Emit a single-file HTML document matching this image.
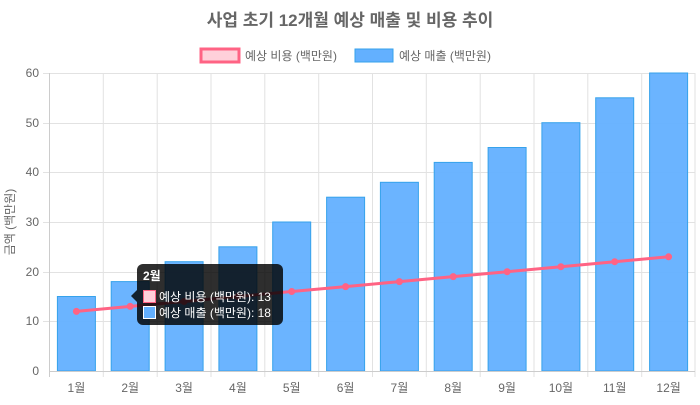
<!DOCTYPE html>
<html><head><meta charset="utf-8"><style>
body{margin:0;background:#fff;}
text{font-family:"Liberation Sans","Noto Sans CJK KR",sans-serif;}
</style></head><body>
<svg width="700" height="400" viewBox="0 0 700 400" xmlns="http://www.w3.org/2000/svg">
<text x="350" y="26" text-anchor="middle" font-size="17" font-weight="bold" fill="#666">사업 초기 12개월 예상 매출 및 비용 추이</text>
<rect x="201" y="49" width="38" height="13" fill="#ffd0da" stroke="#ff6384" stroke-width="3"/>
<text x="245" y="60" font-size="12" fill="#666">예상 비용 (백만원)</text>
<rect x="355" y="49" width="38" height="13" fill="#63b0ff" stroke="#36a2eb" stroke-width="1"/>
<text x="399" y="60" font-size="12" fill="#666">예상 매출 (백만원)</text>
<g stroke="#e2e2e2" stroke-width="1">
<line x1="43" y1="73.5" x2="695" y2="73.5"/>
<line x1="43" y1="123.5" x2="695" y2="123.5"/>
<line x1="43" y1="172.5" x2="695" y2="172.5"/>
<line x1="43" y1="222.5" x2="695" y2="222.5"/>
<line x1="43" y1="272.5" x2="695" y2="272.5"/>
<line x1="43" y1="321.5" x2="695" y2="321.5"/>
<line x1="49.5" y1="73" x2="49.5" y2="377" stroke="#ccc"/>
<line x1="103.3" y1="73" x2="103.3" y2="377"/>
<line x1="157.2" y1="73" x2="157.2" y2="377"/>
<line x1="211" y1="73" x2="211" y2="377"/>
<line x1="264.8" y1="73" x2="264.8" y2="377"/>
<line x1="318.7" y1="73" x2="318.7" y2="377"/>
<line x1="372.5" y1="73" x2="372.5" y2="377"/>
<line x1="426.3" y1="73" x2="426.3" y2="377"/>
<line x1="480.2" y1="73" x2="480.2" y2="377"/>
<line x1="534" y1="73" x2="534" y2="377"/>
<line x1="587.8" y1="73" x2="587.8" y2="377"/>
<line x1="641.7" y1="73" x2="641.7" y2="377"/>
<line x1="695" y1="73" x2="695" y2="377"/>
</g>
<g font-size="12" fill="#666" text-anchor="end">
<text x="39" y="77">60</text><text x="39" y="127">50</text><text x="39" y="176">40</text>
<text x="39" y="226">30</text><text x="39" y="276">20</text><text x="39" y="325">10</text><text x="39" y="375">0</text>
</g>
<text transform="translate(14,222) rotate(-90)" text-anchor="middle" font-size="12" fill="#666">금액 (백만원)</text>
<g fill="#63b0ff" fill-opacity="0.95" stroke="#36a2eb" stroke-width="1">
<rect x="57.4" y="296.5" width="38" height="74.5"/>
<rect x="111.2" y="281.6" width="38" height="89.4"/>
<rect x="165.1" y="261.7" width="38" height="109.3"/>
<rect x="218.9" y="246.8" width="38" height="124.2"/>
<rect x="272.7" y="222" width="38" height="149"/>
<rect x="326.6" y="197.2" width="38" height="173.8"/>
<rect x="380.4" y="182.3" width="38" height="188.7"/>
<rect x="434.2" y="162.4" width="38" height="208.6"/>
<rect x="488.1" y="147.5" width="38" height="223.5"/>
<rect x="541.9" y="122.7" width="38" height="248.3"/>
<rect x="595.7" y="97.8" width="38" height="273.2"/>
<rect x="649.6" y="73" width="38" height="298"/>
</g>
<line x1="49" y1="371.5" x2="695" y2="371.5" stroke="#ccc"/>
<polyline fill="none" stroke="#ff6384" stroke-width="3" points="76.4,311.4 130.2,306.4 184.1,301.5 237.9,296.5 291.7,291.5 345.6,286.6 399.4,281.6 453.2,276.6 507.1,271.7 560.9,266.7 614.7,261.7 668.6,256.8"/>
<g fill="#ff6384">
<circle cx="76.4" cy="311.4" r="3.5"/><circle cx="130.2" cy="306.4" r="3.5"/><circle cx="184.1" cy="301.5" r="3.5"/><circle cx="237.9" cy="296.5" r="3.5"/><circle cx="291.7" cy="291.5" r="3.5"/><circle cx="345.6" cy="286.6" r="3.5"/><circle cx="399.4" cy="281.6" r="3.5"/><circle cx="453.2" cy="276.6" r="3.5"/><circle cx="507.1" cy="271.7" r="3.5"/><circle cx="560.9" cy="266.7" r="3.5"/><circle cx="614.7" cy="261.7" r="3.5"/><circle cx="668.6" cy="256.8" r="3.5"/>
</g>
<g font-size="12" fill="#666" text-anchor="middle">
<text x="76.4" y="392">1월</text><text x="130.2" y="392">2월</text><text x="184.1" y="392">3월</text><text x="237.9" y="392">4월</text><text x="291.7" y="392">5월</text><text x="345.6" y="392">6월</text><text x="399.4" y="392">7월</text><text x="453.2" y="392">8월</text><text x="507.1" y="392">9월</text><text x="560.9" y="392">10월</text><text x="614.7" y="392">11월</text><text x="668.6" y="392">12월</text>
</g>
<g>
<rect x="137" y="264" width="146" height="61" rx="6" fill="#000" fill-opacity="0.82"/>
<polygon points="137,290 131,296 137,302" fill="#000" fill-opacity="0.82"/>
<text x="143" y="280" font-size="12" font-weight="bold" fill="#fff">2월</text>
<rect x="143.5" y="290.5" width="12" height="12" fill="#ffd0da" stroke="#ff6384"/>
<text x="159" y="301" font-size="12" fill="#fff">예상 비용 (백만원): 13</text>
<rect x="143.5" y="306.5" width="12" height="12" fill="#63b0ff" stroke="#fff"/>
<text x="159" y="317" font-size="12" fill="#fff">예상 매출 (백만원): 18</text>
</g>
</svg>
</body></html>
